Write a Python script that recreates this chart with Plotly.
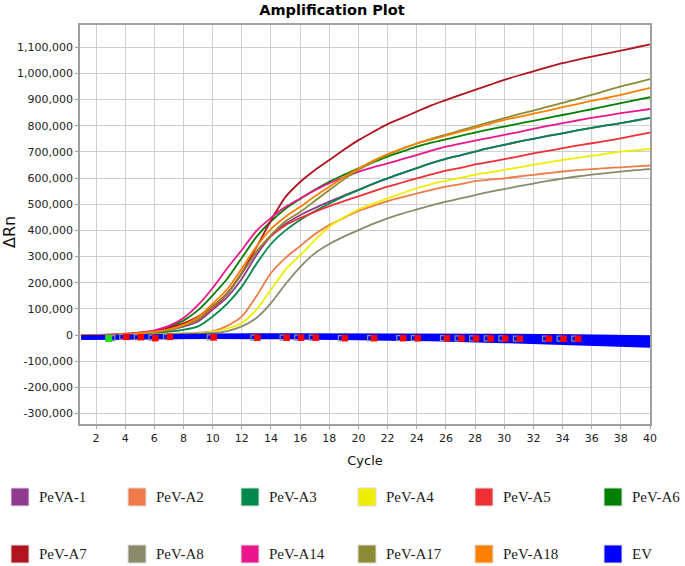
import plotly.graph_objects as go

# ---------------- data (ΔRn values in thousands) ----------------
CYCLES = list(range(1, 41))

SERIES_NAMES = ["PeVA-1", "PeV-A2", "PeV-A3", "PeV-A4", "PeV-A5", "PeV-A6",
                "PeV-A7", "PeV-A8", "PeV-A14", "PeV-A17", "PeV-A18", "EV"]
SERIES_COLORS = ["#8E3A8E", "#EF7B48", "#00894B", "#EEEE00", "#EE3034", "#008000",
                 "#B0141F", "#8A8A6C", "#EC168C", "#8B8B36", "#FF8000", "#0000FF"]

PEVA_1 = [0, 0, 0, 3, 6, 11, 19, 32, 52, 97, 145, 215, 305, 378, 425, 458, 485, 510, 533, 555,
          578, 599, 619, 638, 657, 673, 687, 701, 715, 727, 739, 750, 761, 771, 782, 792, 801, 810, 820, 830]
PEV_A2 = [0, 0, 0, 1, 2, 3, 4, 6, 9, 14, 35, 71, 148, 237, 295, 340, 385, 420, 448, 474,
          494, 512, 527, 541, 555, 567, 577, 588, 594, 599, 606, 612, 619, 625, 630, 634, 638, 641, 645, 648]
PEV_A3 = [0, 0, 0, 2, 4, 8, 13, 20, 33, 71, 120, 185, 272, 348, 400, 440, 473, 503, 530, 554,
          578, 599, 619, 638, 657, 673, 687, 701, 715, 727, 739, 750, 761, 771, 782, 792, 801, 810, 820, 830]
PEV_A4 = [0, 0, 0, 0, 1, 2, 3, 5, 7, 12, 25, 46, 97, 173, 250, 305, 362, 414, 450, 480,
          502, 522, 542, 561, 577, 590, 601, 613, 622, 631, 641, 651, 660, 669, 677, 685, 693, 701, 706, 711]
PEV_A5 = [0, 0, 0, 3, 7, 13, 22, 36, 59, 103, 157, 235, 318, 378, 420, 447, 471, 493, 512, 530,
          549, 567, 583, 599, 614, 628, 639, 652, 662, 672, 683, 694, 704, 714, 724, 733, 742, 752, 763, 774]
PEV_A6 = [0, 0, 0, 4, 9, 16, 30, 55, 95, 152, 215, 295, 375, 435, 483, 520, 555, 586, 612, 637,
          660, 682, 701, 720, 735, 748, 761, 774, 786, 797, 808, 819, 830, 841, 852, 863, 875, 886, 898, 909]
PEV_A7 = [0, 0, 0, 3, 7, 14, 27, 45, 71, 110, 160, 238, 335, 438, 528, 585, 630, 669, 708, 745,
          776, 806, 830, 854, 878, 898, 918, 937, 956, 975, 992, 1008, 1024, 1039, 1052, 1064, 1076, 1087, 1099, 1111]
PEV_A8 = [0, 0, 0, 0, 1, 2, 3, 4, 5, 7, 15, 33, 65, 122, 195, 260, 312, 348, 376, 401,
          425, 446, 464, 480, 496, 510, 522, 535, 547, 558, 569, 579, 589, 598, 606, 613, 619, 625, 630, 634]
PEV_A14 = [0, 0, 2, 5, 10, 18, 35, 65, 115, 180, 255, 325, 398, 448, 490, 522, 553, 580, 603, 624,
           641, 656, 672, 688, 705, 720, 732, 743, 754, 765, 776, 788, 799, 810, 820, 830, 839, 848, 856, 864]
PEV_A17 = [0, 0, 0, 3, 6, 11, 20, 35, 60, 108, 158, 235, 318, 382, 435, 470, 512, 554, 595, 631,
           662, 688, 711, 732, 750, 766, 782, 798, 814, 829, 844, 858, 873, 887, 903, 918, 934, 950, 964, 978]
PEV_A18 = [0, 0, 0, 3, 7, 13, 22, 39, 68, 120, 175, 255, 338, 405, 452, 490, 530, 567, 603, 636,
           666, 692, 713, 732, 747, 762, 777, 792, 807, 822, 834, 846, 858, 871, 883, 895, 906, 918, 931, 945]

AMP_SERIES = [PEVA_1, PEV_A2, PEV_A3, PEV_A4, PEV_A5, PEV_A6,
              PEV_A7, PEV_A8, PEV_A14, PEV_A17, PEV_A18]

# EV (negative control) wells, read at a few cycles
EV_CYCLES = [1, 5, 10, 15, 20, 25, 30, 35, 40]
EV_WELL_1 = [-6, -2, 0, 1, 1, 0, -1, -3, -7]
EV_WELL_2 = [-8, -4, -2, -2, -3, -4, -6, -9, -13]
EV_WELL_3 = [-9, -6, -4, -4, -5, -7, -10, -14, -19]
EV_WELL_4 = [-10, -7, -5, -6, -7, -10, -14, -19, -25]
EV_WELL_5 = [-11, -8, -7, -8, -10, -13, -18, -24, -31]
EV_WELL_6 = [-12, -9, -8, -9, -12, -16, -22, -29, -37]
EV_WELL_7 = [-12, -10, -9, -10, -13, -18, -25, -33, -42]
EV_WELLS = [EV_WELL_1, EV_WELL_2, EV_WELL_3, EV_WELL_4, EV_WELL_5, EV_WELL_6, EV_WELL_7]

# baseline / Ct flags
RED_FLAG_CYCLES = [4.07, 5.07, 6.07, 7.07, 10.07, 13.07, 15.07, 16.07, 17.07, 19.07, 21.07,
                   23.07, 24.07, 26.07, 27.07, 28.07, 29.07, 30.07, 31.07, 33.07, 34.07, 35.07]
RED_FLAG_VALUES = [-7, -8, -12, -7, -9, -10, -10, -10, -10, -12, -12,
                   -12, -12, -12, -13, -13, -13, -13, -14, -14, -14, -14]
GRAY_FLAG_CYCLES = [3.8, 4.8, 5.8, 6.8, 9.8, 12.8, 14.8, 15.8, 16.8, 18.8, 20.8,
                    22.8, 23.8, 25.8, 26.8, 27.8, 28.8, 29.8, 30.8, 32.8, 33.8, 34.8, 3.12]
GRAY_FLAG_VALUES = [-7, -8, -10, -7, -9, -10, -10, -10, -10, -12, -12,
                    -12, -12, -12, -13, -13, -13, -13, -14, -14, -14, -14, -12]
GREEN_FLAG_CYCLES = [2.87]
GREEN_FLAG_VALUES = [-13]

X_TICKS = list(range(2, 41, 2))
Y_TICK_VALUES = [v * 100000 for v in range(-3, 12)]
Y_TICK_LABELS = ["-300,000", "-200,000", "-100,000", "0", "100,000", "200,000", "300,000",
                 "400,000", "500,000", "600,000", "700,000", "800,000", "900,000",
                 "1,000,000", "1,100,000"]

K = 1000  # values above are in thousands

# ---------------- figure ----------------
W, H = 685, 566
ML, MR, MT, MB = 80, 35, 25, 142
PW, PH = W - ML - MR, H - MT - MB

fig = go.Figure()

for name, color, vals in zip(SERIES_NAMES[:11], SERIES_COLORS[:11], AMP_SERIES):
    fig.add_trace(go.Scatter(x=CYCLES, y=[v * K for v in vals], mode="lines", name=name,
                             line=dict(color=color, width=1.8, shape="spline", smoothing=0.7),
                             showlegend=False))

for vals in EV_WELLS:
    fig.add_trace(go.Scatter(x=EV_CYCLES, y=[v * K for v in vals], mode="lines", name="EV",
                             line=dict(color=SERIES_COLORS[11], width=3.2), showlegend=False))

fig.add_trace(go.Scatter(x=GRAY_FLAG_CYCLES, y=[v * K for v in GRAY_FLAG_VALUES], mode="markers",
                         marker=dict(symbol="square-open", size=5, color="#909090",
                                     line=dict(width=1.2, color="#909090")),
                         showlegend=False))
fig.add_trace(go.Scatter(x=RED_FLAG_CYCLES, y=[v * K for v in RED_FLAG_VALUES], mode="markers",
                         marker=dict(symbol="square", size=6.5, color="#FF0000"),
                         showlegend=False))
fig.add_trace(go.Scatter(x=GREEN_FLAG_CYCLES, y=[v * K for v in GREEN_FLAG_VALUES], mode="markers",
                         marker=dict(symbol="square", size=7, color="#22DD22"),
                         showlegend=False))

# ---------------- custom legend (two rows of six colour squares) ----------------
LEG_COL_X = [11, 128, 241, 358, 475, 604]   # px, left edge of squares
LEG_ROW_Y = [497, 554]                      # px, row centres
LEG_SQ = 18
shapes, annos = [], []
for i, (name, color) in enumerate(zip(SERIES_NAMES, SERIES_COLORS)):
    cx = LEG_COL_X[i % 6]
    cy = LEG_ROW_Y[i // 6]
    shapes.append(dict(type="rect", xref="paper", yref="paper",
                       x0=(cx - ML) / PW, x1=(cx + LEG_SQ - ML) / PW,
                       y0=(H - MB - (cy + LEG_SQ / 2)) / PH, y1=(H - MB - (cy - LEG_SQ / 2)) / PH,
                       fillcolor=color, line=dict(color="#DDDDDD", width=1)))
    annos.append(dict(xref="paper", yref="paper", x=(cx + LEG_SQ + 8 - ML) / PW,
                      y=(H - MB - cy) / PH, text=name, showarrow=False,
                      xanchor="left", yanchor="middle",
                      font=dict(family="Liberation Serif", size=15, color="#222222")))

annos.append(dict(xref="paper", yref="paper", x=(9 - ML) / PW, y=(H - MB - 232) / PH,
                  text="ΔRn", textangle=-90, showarrow=False, xanchor="center", yanchor="middle",
                  font=dict(family="DejaVu Sans", size=16, color="#111111")))

fig.update_layout(
    width=W, height=H,
    margin=dict(l=ML, r=MR, t=MT, b=MB),
    paper_bgcolor="white", plot_bgcolor="white",
    title=dict(text="<b>Amplification Plot</b>", x=332 / W, xref="container", xanchor="center",
               y=1 - 10 / H, yref="container", yanchor="middle",
               font=dict(family="DejaVu Sans", size=14.5, color="#000000")),
    shapes=shapes, annotations=annos,
    showlegend=False,
)
fig.update_xaxes(range=[0.9, 40], tickmode="array", tickvals=X_TICKS,
                 showgrid=True, gridcolor="#CFCFCF", gridwidth=1,
                 showline=True, linecolor="#A0A0A0", linewidth=1.5, mirror=True,
                 ticks="outside", ticklen=3, tickcolor="#A0A0A0", zeroline=False,
                 tickfont=dict(family="DejaVu Sans", size=11, color="#222222"),
                 title=dict(text="Cycle", standoff=12,
                            font=dict(family="DejaVu Sans", size=13, color="#111111")))
fig.update_yaxes(range=[-340000, 1185000], tickmode="array", tickvals=Y_TICK_VALUES,
                 ticktext=Y_TICK_LABELS,
                 showgrid=True, gridcolor="#CFCFCF", gridwidth=1,
                 showline=True, linecolor="#A0A0A0", linewidth=1.5, mirror=True,
                 ticks="outside", ticklen=3, tickcolor="#A0A0A0", zeroline=False,
                 tickfont=dict(family="DejaVu Sans", size=11, color="#222222"))

# remove the browser's default 8px page margin so the figure sits at the window's corner
fig.write_html("out.html", config={"displayModeBar": False},
               post_script="document.body.style.margin='0px';")
